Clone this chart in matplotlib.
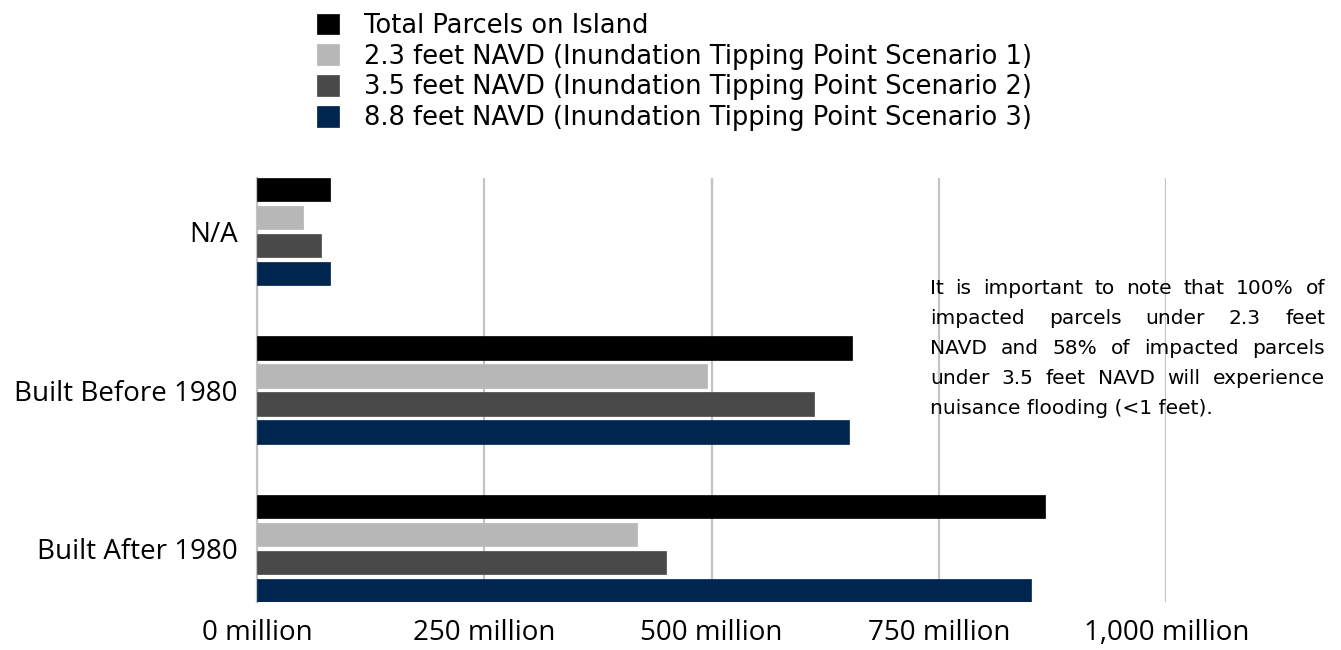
import numpy as np
import matplotlib.pyplot as plt

categories = ["N/A", "Built Before 1980", "Built After 1980"]
series = ["Total Parcels on Island",
          "2.3 feet NAVD (Inundation Tipping Point Scenario 1)",
          "3.5 feet NAVD (Inundation Tipping Point Scenario 2)",
          "8.8 feet NAVD (Inundation Tipping Point Scenario 3)"]
total = [80, 654, 867]
scen1 = [50, 495, 418]
scen2 = [70, 613, 450]
scen3 = [80, 651, 851]
colors = ["#000000", "#b7b7b7", "#494949", "#00264f"]
xticks = [0, 250, 500, 750, 1000]
xlabels = ["0 million", "250 million", "500 million", "750 million", "1,000 million"]
note_lines = ["It is important to note that 100% of",
              "impacted parcels under 2.3 feet",
              "NAVD and 58% of impacted parcels",
              "under 3.5 feet NAVD will experience",
              "nuisance flooding (<1 feet)."]

fig = plt.figure(figsize=(13.41, 6.5), dpi=100)
ax = fig.add_axes([0.1917, 0.074, 0.678, 0.652])

y = np.arange(len(categories))
pitch = 0.177
h = 0.146
for j, vals in enumerate([total, scen1, scen2, scen3]):
    ax.barh(y + (j - 1.5) * pitch, vals, height=h, color=colors[j],
            edgecolor=colors[j], linewidth=0.5, label=series[j], zorder=3)

ax.set_xlim(0, 1000)
ax.set_ylim(2.34, -0.34)
ax.set_xticks(xticks)
ax.set_xticklabels(xlabels, fontsize=20, family="Open Sans")
ax.set_yticks(y)
ax.set_yticklabels(categories, fontsize=20, family="Open Sans")
ax.tick_params(length=0, pad=14)
ax.tick_params(axis="x", pad=12)
ax.grid(axis="x", color="#c4c4c4", linewidth=1.6, zorder=0)
for s in ["top", "right", "bottom"]:
    ax.spines[s].set_visible(False)
ax.spines["left"].set_color("#c4c4c4")
ax.spines["left"].set_linewidth(1.6)

fig.legend(loc="upper left", bbox_to_anchor=(0.219, 1.016), frameon=False,
           prop={"family": "DejaVu Sans", "size": 18.5}, handlelength=0.86,
           handleheight=0.86, handletextpad=0.97, labelspacing=0.19)

# justified note text
fig.canvas.draw()
renderer = fig.canvas.get_renderer()
x0, x1 = 930, 1325
top = 650 - 288
lh = 30
fs = 14.5
for i, line in enumerate(note_lines):
    ypix = top - i * lh
    words = line.split(" ")
    if i == len(note_lines) - 1:
        fig.text(x0 / 1341, ypix / 650, line, fontsize=fs, family="DejaVu Sans",
                 va="center", ha="left")
        continue
    txts = [fig.text(0, ypix / 650, w, fontsize=fs, family="DejaVu Sans",
                     va="center", ha="left") for w in words]
    widths = [t.get_window_extent(renderer).width for t in txts]
    gap = max((x1 - x0 - sum(widths)) / (len(words) - 1), 4)
    xp = x0
    for t, w in zip(txts, widths):
        t.set_x(xp / 1341)
        xp += w + gap

fig.savefig("out.png", dpi=100)
